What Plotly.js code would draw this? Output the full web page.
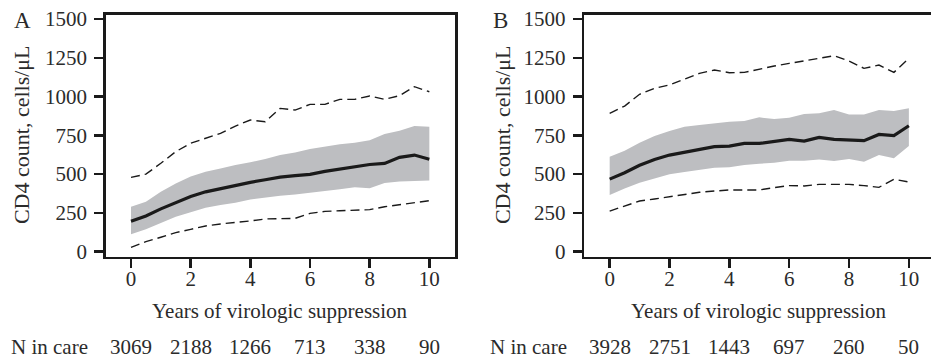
<!DOCTYPE html>
<html>
<head>
<meta charset="utf-8">
<script src="https://cdn.plot.ly/plotly-3.0.1.min.js"></script>
<style>
html, body { margin:0; padding:0; overflow:hidden; background:#fff; width:931px; height:361px; }
#chart { width:940px; height:361px; }
</style>
</head>
<body>
<div id="chart"></div>
<script>
// Years of virologic suppression (0.5-year steps)
const years = [0,0.5,1,1.5,2,2.5,3,3.5,4,4.5,5,5.5,6,6.5,7,7.5,8,8.5,9,9.5,10];

// Panel A
const aMedian   = [196,230,276,318,356,386,407,428,447,464,481,491,499,518,532,547,562,569,608,623,596];
const aIqrHigh  = [290,322,387,440,484,516,537,559,576,597,623,640,662,677,693,703,718,758,779,810,806];
const aIqrLow   = [113,144,185,226,254,283,301,315,336,350,360,368,378,392,402,415,409,443,453,456,459];
const aP90      = [479,500,570,645,699,731,763,810,849,838,924,913,950,950,982,982,1004,982,1006,1064,1031];
const aP10      = [28,65,93,123,144,166,179,187,198,211,213,215,247,260,264,269,271,290,303,318,329];

// Panel B
const bMedian   = [468,509,557,595,623,640,660,677,681,698,698,709,724,713,737,724,720,716,756,748,812];
const bIqrHigh  = [612,651,703,746,778,806,817,827,838,842,866,855,864,888,892,913,885,885,913,907,924];
const bIqrLow   = [365,408,445,473,499,514,527,542,544,559,567,574,587,587,595,585,597,580,623,602,681];
const bP90      = [892,939,1015,1053,1075,1113,1150,1171,1154,1156,1178,1197,1214,1231,1244,1263,1229,1182,1203,1156,1246];
const bP10      = [262,295,327,340,355,370,383,391,398,398,398,413,426,424,434,434,434,426,415,467,449];

// N in care
const nYears = [0,2,4,6,8,10];
const nA = [3069,2188,1266,713,338,90];
const nB = [3928,2751,1443,697,260,50];

const yTicks = [0,250,500,750,1000,1250,1500];
const xTicks = [0,2,4,6,8,10];

const FONT = "'Liberation Serif', 'DejaVu Serif', serif";
const TXT = '#2b2b2b';
const LINE = '#1a1a1a';
const BAND = '#bdbec1';

function panel(xa, ya, med, lo, hi, p10, p90) {
  return [
    {x: years, y: lo, xaxis: xa, yaxis: ya, mode: 'lines', line: {width: 0, color: BAND}, hoverinfo: 'skip', showlegend: false},
    {x: years, y: hi, xaxis: xa, yaxis: ya, mode: 'lines', line: {width: 0, color: BAND}, fill: 'tonexty', fillcolor: BAND, showlegend: false},
    {x: years, y: p90, xaxis: xa, yaxis: ya, mode: 'lines', line: {width: 1.4, color: LINE, dash: '9px,5px'}, showlegend: false},
    {x: years, y: p10, xaxis: xa, yaxis: ya, mode: 'lines', line: {width: 1.4, color: LINE, dash: '9px,5px'}, showlegend: false},
    {x: years, y: med, xaxis: xa, yaxis: ya, mode: 'lines', line: {width: 3.2, color: LINE}, showlegend: false}
  ];
}

const data = [].concat(
  panel('x', 'y', aMedian, aIqrLow, aIqrHigh, aP10, aP90),
  panel('x2', 'y2', bMedian, bIqrLow, bIqrHigh, bP10, bP90)
);

const W = 940, H = 361;
const xRange = [-0.848, 10.86];
const yRange = [-32.2, 1527.8];
const yDom = [1 - 256.7 / H, 1 - 14.7 / H];

function xAxis(dom) {
  return {
    domain: dom, range: xRange, tickvals: xTicks, ticktext: xTicks.map(String),
    ticks: 'outside', ticklen: 9, tickwidth: 2.5, tickcolor: LINE, ticklabelstandoff: -7,
    showline: true, linewidth: 2.5, linecolor: LINE, mirror: true,
    showgrid: false, zeroline: false, fixedrange: true,
    tickfont: {family: FONT, size: 21, color: TXT}
  };
}
function yAxis(anchor) {
  return {
    domain: yDom, range: yRange, tickvals: yTicks, ticktext: yTicks.map(String), anchor: anchor,
    ticks: 'outside', ticklen: 9, tickwidth: 2.5, tickcolor: LINE, ticklabelstandoff: 3,
    showline: true, linewidth: 2.5, linecolor: LINE, mirror: true,
    showgrid: false, zeroline: false, fixedrange: true,
    tickfont: {family: FONT, size: 21, color: TXT}
  };
}

const nRowY = 1 - 347 / H;
const titleY = 1 - 311 / H;
const annotations = [];

function addPanelText(xref, yref, letter, letterX, yTitleX, nLabelRight, counts) {
  annotations.push({xref: 'paper', yref: 'paper', x: letterX / W, y: 1 - 20 / H, text: letter,
    showarrow: false, xanchor: 'center', yanchor: 'middle', font: {family: FONT, size: 23, color: TXT}});
  annotations.push({xref: 'paper', yref: yref, x: yTitleX / W, y: 752, text: 'CD4 count, cells/μL', textangle: -90,
    showarrow: false, xanchor: 'center', yanchor: 'middle', font: {family: FONT, size: 22, color: TXT}});
  annotations.push({xref: xref, yref: 'paper', x: 5, y: titleY, text: 'Years of virologic suppression',
    showarrow: false, xanchor: 'center', yanchor: 'middle', font: {family: FONT, size: 21, color: TXT}});
  annotations.push({xref: 'paper', yref: 'paper', x: nLabelRight / W, y: nRowY, text: 'N in care',
    showarrow: false, xanchor: 'right', yanchor: 'middle', font: {family: FONT, size: 21, color: TXT}});
  nYears.forEach((yr, i) => {
    annotations.push({xref: xref, yref: 'paper', x: yr, y: nRowY, text: String(counts[i]),
      showarrow: false, xanchor: 'center', yanchor: 'middle', font: {family: FONT, size: 21, color: TXT}});
  });
}
addPanelText('x', 'y', 'A', 22, 21, 90, nA);
addPanelText('x2', 'y2', 'B', 500, 502, 569, nB);

const layout = {
  width: W, height: H, autosize: false,
  margin: {l: 0, r: 0, t: 0, b: 0, pad: 0},
  paper_bgcolor: '#fff', plot_bgcolor: '#fff',
  xaxis: xAxis([105.7 / W, 455 / W]),
  yaxis: yAxis('x'),
  xaxis2: Object.assign(xAxis([584.3 / W, 934.6 / W]), {anchor: 'y2'}),
  yaxis2: yAxis('x2'),
  annotations: annotations,
  showlegend: false
};
layout.xaxis.anchor = 'y';

Plotly.newPlot('chart', data, layout, {displayModeBar: false, staticPlot: true});
</script>
</body>
</html>
